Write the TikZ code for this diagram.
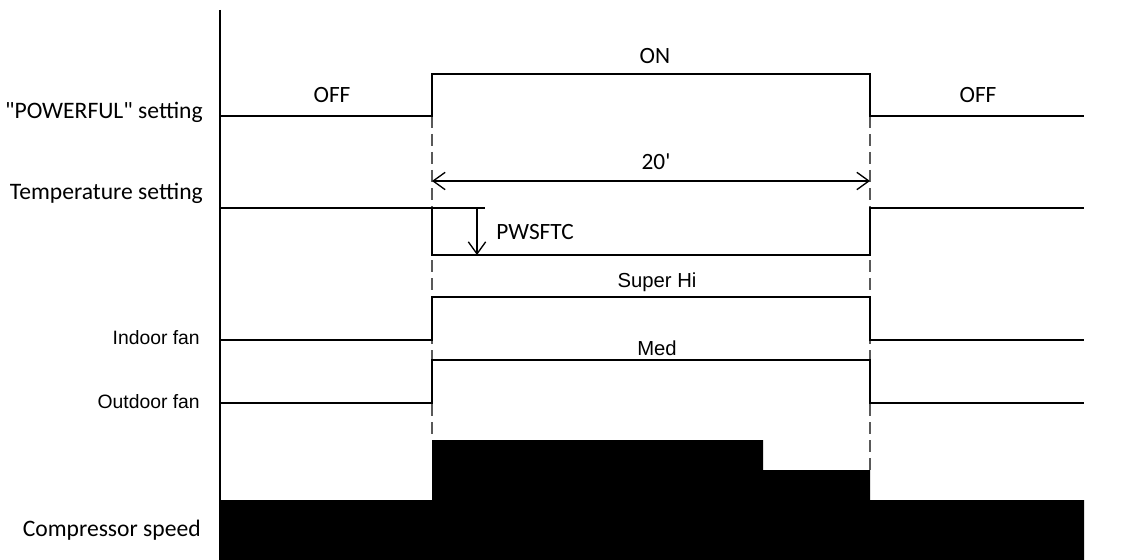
\documentclass[tikz,border=0pt]{standalone}
\usepackage{fontspec}
\setmainfont{Carlito}[Ligatures=TeXOff]
\newfontfamily\arialfont{Liberation Sans}
\usetikzlibrary{arrows.meta}

\tikzset{
  signal/.style={line width=2.2pt},
  guide/.style={color=gray!70!black, line width=0.8pt, dash pattern=on 9pt off 4.5pt},
  barb/.tip={Straight Barb[length=9pt,width=13pt]},
  span/.style={line width=1pt, barb-barb},
  drop/.style={line width=1pt, -barb},
  rowlabel/.style={anchor=east, inner sep=0.75pt, font=\fontsize{17.7}{21}\selectfont},
  fanlabel/.style={anchor=east, inner sep=0.75pt, font=\arialfont\fontsize{14.5}{17}\selectfont},
  statelabel/.style={inner sep=0.75pt, font=\fontsize{17.5}{21}\selectfont},
  fanstate/.style={inner sep=0.75pt, font=\arialfont\fontsize{15.2}{18}\selectfont}
}

\begin{document}
\begin{tikzpicture}[x=0.75pt,y=0.75pt,yscale=-1]
\useasboundingbox (0,0) rectangle (1133,560);

%Compressor speed blocks
\fill [black] (220,560) -- (220,500) -- (432,500) -- (432,440) -- (763,440) -- (763,470) -- (870,470) -- (870,500) -- (1084,500) -- (1084,560) -- cycle ;

%Dashed guide lines
\draw [guide] (432,116) -- (432,440) ;
\draw [guide] (870,116) -- (870,470) ;

%Vertical axis
\draw [line width=2.2pt] (220,10) -- (220,560) ;

%"POWERFUL" setting
\draw [signal] (220,116) -- (432,116) -- (432,74) -- (870,74) -- (870,116) -- (1084,116) ;
%Temperature setting
\draw [signal] (220,208) -- (432,208) -- (432,255) -- (870,255) -- (870,208) -- (1084,208) ;
\draw [signal] (432,208) -- (485,208) ;
%Indoor fan
\draw [signal] (220,340) -- (432,340) -- (432,297) -- (870,297) -- (870,340) -- (1084,340) ;
%Outdoor fan
\draw [signal] (220,403) -- (432,403) -- (432,360) -- (870,360) -- (870,403) -- (1084,403) ;

%20' span and PWSFTC drop
\coordinate (spanL) at (432,181) ;
\coordinate (spanR) at (870,181) ;
\draw [span] (spanL) -- (spanR) ;
\coordinate (dropT) at (477,208) ;
\coordinate (dropB) at (477,255) ;
\draw [drop] (dropT) -- (dropB) ;

% Text Node
\node [rowlabel] (powerful) at (204,112) {"POWERFUL" setting};
% Text Node
\node [rowlabel] (temp) at (204,193) {Temperature setting};
% Text Node
\node [fanlabel] (indoor) at (201,338) {Indoor fan};
% Text Node
\node [fanlabel] (outdoor) at (201,402) {Outdoor fan};
% Text Node
\node [rowlabel] (comp) at (202,530) {Compressor speed};
% Text Node
\node [statelabel] (offL) at (332,95) {OFF};
% Text Node
\node [statelabel] (on) at (655,56) {ON};
% Text Node
\node [statelabel] (offR) at (978,95) {OFF};
% Text Node
\node [statelabel] (twenty) at (656,162) {20'};
% Text Node
\node [statelabel, anchor=west] (pwsftc) at (495,232) {PWSFTC};
% Text Node
\node [fanstate] (superhi) at (657,282) {Super Hi};
% Text Node
\node [fanstate] (med) at (657,348) {Med};
\end{tikzpicture}
\end{document}
